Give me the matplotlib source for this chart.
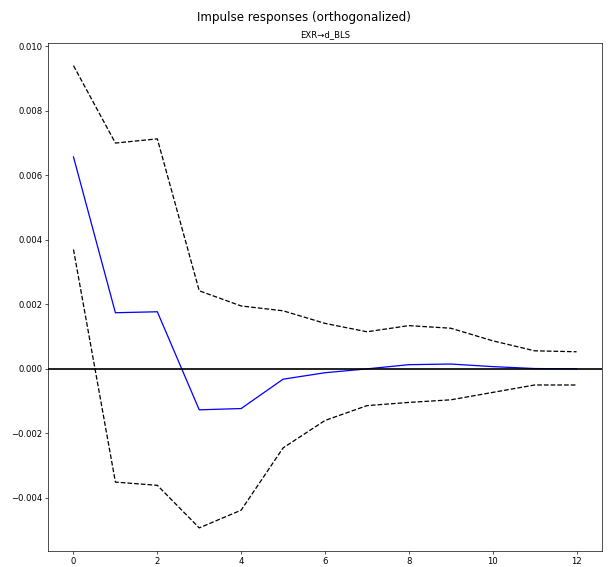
import matplotlib
matplotlib.use("Agg")
import matplotlib.pyplot as plt
import numpy as np

# Data
periods = list(range(13))
irf = [0.00657, 0.00174, 0.00177, -0.00127, -0.00123, -0.00032, -0.00012,
       0.00000, 0.00013, 0.00015, 0.00007, 0.00001, 0.00000]
upper = [0.00940, 0.00700, 0.00713, 0.00242, 0.00195, 0.00180, 0.00141,
         0.00115, 0.00134, 0.00126, 0.00087, 0.00056, 0.00053]
lower = [0.00370, -0.00351, -0.00361, -0.00493, -0.00438, -0.00245, -0.00160,
         -0.00114, -0.00104, -0.00096, -0.00073, -0.00050, -0.00050]
suptitle = "Impulse responses (orthogonalized)"
subtitle = "EXR\u2192d_BLS"

DPI = 60.8
fig = plt.figure(figsize=(608 / DPI, 567 / DPI), dpi=DPI)
ax = fig.add_axes([0.0795, 0.0282, 0.9101, 0.8968])

ax.plot(periods, irf, color="b", lw=1.5)
ax.plot(periods, upper, "k--", lw=1.5)
ax.plot(periods, lower, "k--", lw=1.5)
ax.axhline(0, color="k", lw=2)

ax.set_title(subtitle, fontsize=10)
fig.suptitle(suptitle, fontsize=14)

ax.set_xticks([0, 2, 4, 6, 8, 10, 12])
ax.set_yticks([-0.004, -0.002, 0.0, 0.002, 0.004, 0.006, 0.008, 0.010])
ax.yaxis.set_major_formatter(matplotlib.ticker.FormatStrFormatter("%.3f"))
ax.set_yticklabels(["\u22120.004", "\u22120.002", "0.000", "0.002", "0.004",
                    "0.006", "0.008", "0.010"])

fig.savefig("out.png", dpi=DPI)
